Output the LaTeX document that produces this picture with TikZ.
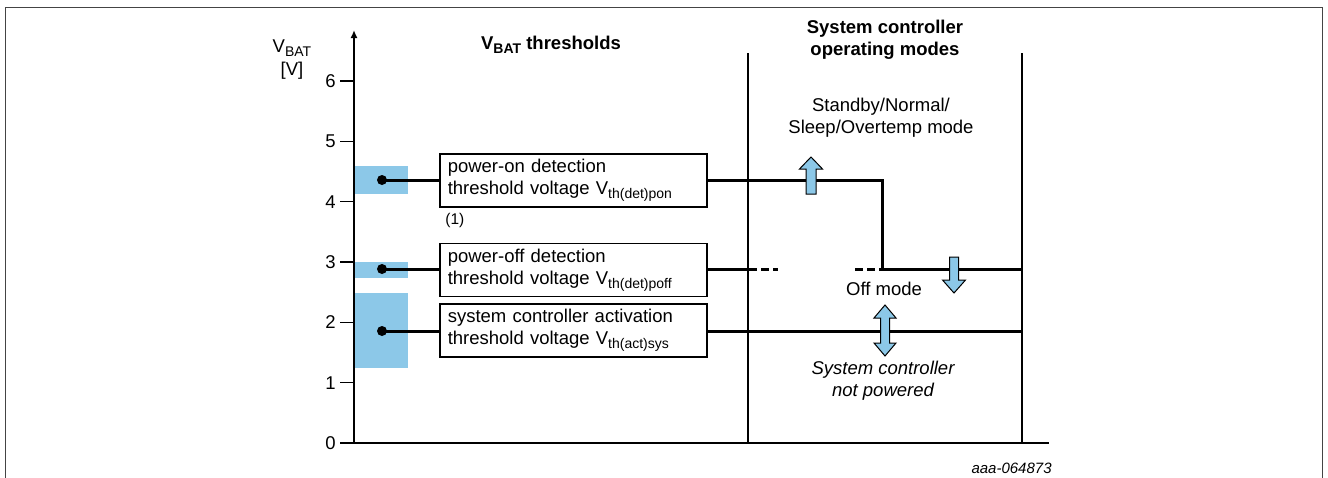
\documentclass[tikz,border=0pt]{standalone}
\usepackage{fontspec}
\setmainfont{Liberation Sans}
\usetikzlibrary{arrows.meta}
\definecolor{lblue}{HTML}{8CC8E8}
\definecolor{framegray}{HTML}{444444}
\newcommand{\mysub}[1]{\raisebox{-2pt}{\fontsize{7}{7}\selectfont #1}}
\begin{document}
\begin{tikzpicture}[x=0.5pt,y=-0.5pt,
  every node/.style={font=\fontsize{9.25}{11}\selectfont, text=black},
  tbox/.style={draw, line width=0.75pt, anchor=west, minimum width=133.5pt, minimum height=26.5pt, text width=125.5pt, inner xsep=4pt, inner ysep=0pt, align=left},
  dot/.style={circle, fill=black, minimum size=5pt, inner sep=0pt},
  thickline/.style={line width=1.5pt},
  thinline/.style={line width=0.65pt},
  blockarrow/.style={fill=lblue, draw=black, line width=0.5pt, line join=miter},
  lbl/.style={align=center, inner sep=0pt},
]
\useasboundingbox (0,0) rectangle (1328,477);
% frame
\draw[framegray, line width=0.75pt] (5.5,485) -- (5.5,7.5) -- (1322.5,7.5) -- (1322.5,485);
% bands
\fill[lblue] (354,166) rectangle (408,194);
\fill[lblue] (354,262) rectangle (408,278);
\fill[lblue] (354,293) rectangle (408,368);
% axes
\coordinate (O) at (354,443);
\coordinate (Ytop) at (354,30);
\coordinate (Xend) at (1049,443);
\draw[line width=1pt, -{Latex[length=4pt,width=3.5pt]}] (O) -- (Ytop);
\draw[line width=0.8pt] (340,443) -- (Xend);
\foreach \v in {0,...,6} {
  \draw[thinline] (340,443-60.33*\v) -- (354,443-60.33*\v);
  \node[anchor=east, inner sep=0pt] (t\v) at (336,443-60.33*\v) {\v};
}
\node[lbl] (vbat) at (292,48) {V\mysub{BAT}};
\node[lbl] (unit) at (292,71) {[V]};
% dividers
\coordinate (D1t) at (748,53); \coordinate (D1b) at (748,443);
\coordinate (D2t) at (1022,53); \coordinate (D2b) at (1022,443);
\draw[thinline] (D1t) -- (D1b);
\draw[thinline] (D2t) -- (D2b);
% headers
\node[lbl, font=\bfseries\fontsize{9.25}{11}\selectfont] (h1) at (551,45) {V\mysub{\bfseries BAT} thresholds};
\node[lbl, font=\bfseries\fontsize{9.25}{11}\selectfont] (h2) at (885,40) {System controller\\operating modes};
% boxes
\node[tbox] (b1) at (439,180.5) {power-on detection\\threshold voltage V\mysub{th(det)pon}};
\node[tbox] (b2) at (439,270) {power-off detection\\threshold voltage V\mysub{th(det)poff}};
\node[tbox] (b3) at (439,330.5) {system controller activation\\threshold voltage V\mysub{th(act)sys}};
\node[anchor=west, inner sep=0pt, font=\fontsize{7.75}{9}\selectfont] (n1) at (445,220) {(1)};
% dots
\node[dot] (d1) at (382,180) {};
\node[dot] (d2) at (382,269) {};
\node[dot] (d3) at (382,331) {};
\draw[thickline] (d1.center) -- (d1 -| b1.west);
\draw[thickline] (d2.center) -- (d2 -| b2.west);
\draw[thickline] (d3.center) -- (d3 -| b3.west);
% right-side lines
\coordinate (c1) at (882,180);
\coordinate (c2) at (882,269);
\coordinate (e2) at (1022,269);
\coordinate (e3) at (1022,331);
\coordinate (s2) at (749,269);
\coordinate (s2e) at (778,269);
\coordinate (s3) at (855,269);
\draw[thickline] (d1 -| b1.east) -- (c1) -- (c2) -- (e2);
\draw[thickline] (d2 -| b2.east) -- (s2);
\draw[thickline, dash pattern=on 4pt off 2pt] (s2) -- (s2e);
\draw[thickline, dash pattern=on 4pt off 2pt] (s3) -- (c2);
\draw[thickline] (d3 -| b3.east) -- (e3);
% labels right
\node[lbl] (m1) at (881,118) {Standby/Normal/\\Sleep/Overtemp mode};
\node[lbl] (m2) at (884,289) {Off mode};
\node[lbl, font=\itshape\fontsize{9.25}{11}\selectfont] (m3) at (883,381) {System controller\\not powered};
\node[anchor=east, inner sep=0pt, font=\itshape\fontsize{7.5}{9}\selectfont] (code) at (1052,468) {aaa-064873};
% block arrows
\draw[blockarrow] (806,194) -- (806,169) -- (799.5,169) -- (811,157) -- (822.5,169) -- (816,169) -- (816,194) -- cycle;
\draw[blockarrow] (949.5,257) -- (958.5,257) -- (958.5,280) -- (965.5,280) -- (954,293) -- (942.5,280) -- (949.5,280) -- cycle;
\draw[blockarrow] (885,305) -- (896,318) -- (889.5,318) -- (889.5,343) -- (896,343) -- (885,356) -- (874,343) -- (880.5,343) -- (880.5,318) -- (874,318) -- cycle;
\end{tikzpicture}
\end{document}
